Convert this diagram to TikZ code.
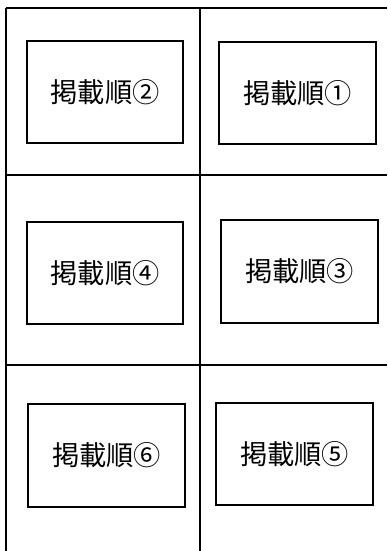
\documentclass[tikz,border=0pt]{standalone}
\usepackage{fontspec}
\newfontfamily\jp{Noto Sans CJK JP}
\usepackage{tikz}

\begin{document}
\begin{tikzpicture}[x=0.02cm, y=-0.02cm,
    grid/.style={line width=1.1pt},
    slot/.style={draw, line width=0.8pt, minimum width=3.12cm, minimum height=2.04cm, font=\jp\fontsize{15.5}{18}\selectfont}]
    \useasboundingbox (0,0) rectangle (387,551);

    % griglia
    \coordinate (tl) at (6,7.7);
    \coordinate (tr) at (387,7.7);
    \coordinate (bl) at (6,551);
    \draw[grid] (tl) -- (tr);
    \draw[grid] (tl) -- (bl);
    \draw[grid] (200,7.7) -- (200,551);
    \draw[grid] (6,175) -- (387,175);
    \draw[grid] (6,365) -- (387,365);

    % riquadri
    \node[slot] at (105,92) (p2) {掲載順②};
    \node[slot, minimum width=3.14cm] at (297.5,93) (p1) {掲載順①};

    \node[slot] at (105,273) (p4) {掲載順④};
    \node[slot, minimum width=3.14cm, minimum height=2.06cm] at (299.5,271.5) (p3) {掲載順③};

    \node[slot, minimum width=3.14cm, minimum height=2.06cm] at (106.5,455.5) (p6) {掲載順⑥};
    \node[slot, minimum width=3.14cm] at (294.5,454) (p5) {掲載順⑤};

  \end{tikzpicture}
\end{document}
